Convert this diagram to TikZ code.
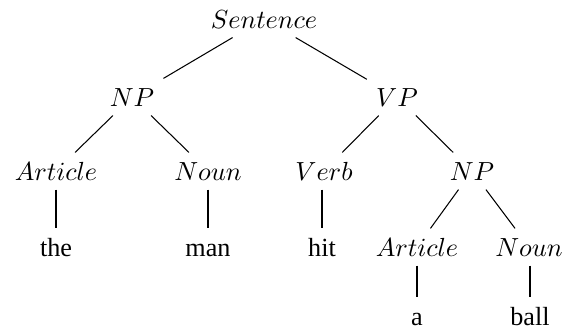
\documentclass[tikz,border=0pt]{standalone}
\usepackage{fontspec}
\setmainfont{Liberation Serif}
\begin{document}
\begin{tikzpicture}[x=0.382pt,y=-0.382pt,
  cat/.style={inner sep=3.4pt,text height=7pt,text depth=0pt},
  word/.style={inner sep=3.4pt,text height=7pt,text depth=0pt}]
  \useasboundingbox (0,0) rectangle (575,334);
  % categories
  \node[cat] (s) at (264,19) {$Sentence$};
  \node[cat] (np) at (132,97) {$NP$};
  \node[cat] (vp) at (397,97) {$VP$};
  \node[cat] (art) at (56,171) {$Article$};
  \node[cat] (noun) at (208,171) {$Noun$};
  \node[cat] (verb) at (324,171) {$Verb$};
  \node[cat] (np2) at (472,171) {$NP$};
  \node[cat] (art2) at (417,247) {$Article$};
  \node[cat] (noun2) at (529,247) {$Noun$};
  % words
  \node[word] (the) at (56,247) {the};
  \node[word] (man) at (208,247) {man};
  \node[word] (hit) at (322,247) {hit};
  \node[word] (a) at (417,316) {a};
  \node[word] (ball) at (530,316) {ball};
  % branches
  \draw (s) -- (np);
  \draw (s) -- (vp);
  \draw (np) -- (art);
  \draw (np) -- (noun);
  \draw (vp) -- (verb);
  \draw (vp) -- (np2);
  \draw (np2) -- (art2);
  \draw (np2) -- (noun2);
  \draw (art) -- (the);
  \draw (noun) -- (man);
  \draw (verb.south -| hit) -- (hit);
  \draw (art2) -- (a);
  \draw (noun2.south -| ball) -- (ball);
\end{tikzpicture}
\end{document}
